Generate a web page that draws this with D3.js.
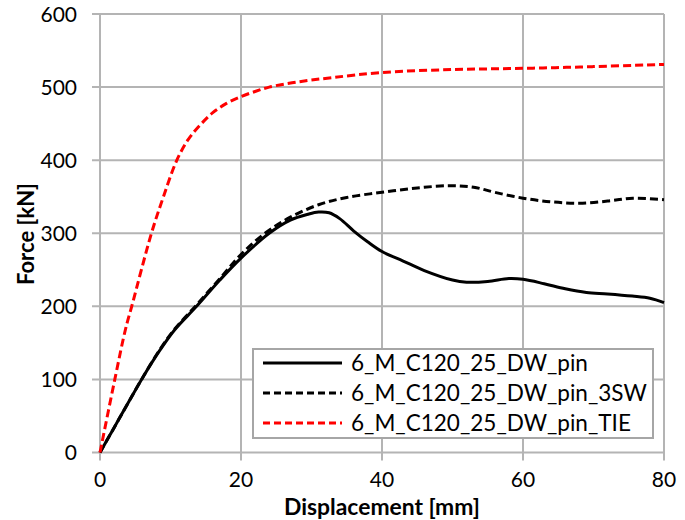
<!DOCTYPE html>
<html>
<head>
<meta charset="utf-8">
<script src="https://cdn.jsdelivr.net/npm/d3@7"></script>
<style>
  body { margin: 0; background: #fff; }
  svg { display: block; font-family: Lato, "Open Sans", sans-serif; }
</style>
</head>
<body>
<svg id="chart" width="685" height="520"></svg>
<script>
// series names
const seriesNames = ["6_M_C120_25_DW_pin", "6_M_C120_25_DW_pin_3SW", "6_M_C120_25_DW_pin_TIE"];

// displacement [mm], force [kN]
const pinX = [0, 2, 4, 5.9, 8.5, 10.6, 13.7, 17, 20, 24, 27, 29.5, 31, 32.5, 34, 36, 38, 40, 43, 46, 50, 52, 55, 58, 60, 63, 66, 69, 72, 75.5, 78, 80];
const pinY = [0, 34, 68, 100, 140, 168, 200, 236, 266, 300, 318, 326, 329, 328, 320, 303, 288, 275, 262, 249, 236, 233, 234, 238, 237, 231, 224, 219, 217, 214, 211, 205];

const swX = [0, 2, 4, 5.9, 8.5, 10.6, 13.7, 17, 20, 23.4, 27, 31, 35, 40, 45, 49.6, 53, 56, 60, 64, 68, 72, 75.6, 80];
const swY = [0, 34, 68, 100, 141, 169, 202, 238, 271, 300, 322, 339, 349, 356, 362, 365, 363, 356, 348, 343, 341, 344, 348, 346];

const tieX = [0, 2.1, 3.6, 4.5, 7.3, 9, 10.9, 12.5, 14.2, 16, 18, 20, 22, 24, 28, 33, 40, 50, 60, 70, 80];
const tieY = [0, 100, 168, 200, 300, 350, 400, 428, 448, 465, 478, 487, 494, 500, 507, 513, 520, 524, 525.6, 528, 531];

const xTicks = [0, 20, 40, 60, 80];
const yTicks = [0, 100, 200, 300, 400, 500, 600];

const svg = d3.select("#chart");

// plot area
const area = { left: 100, right: 664, top: 14, bottom: 452.5 };

const scX = d3.scaleLinear().domain([0, 80]).range([area.left, area.right]);
const scY = d3.scaleLinear().domain([0, 600]).range([area.bottom, area.top]);

const gridColor = "#b4b4b4";

// shrink/grow font so text gets the width seen in the picture
function fitWidth(sel, width) {
    const size = parseFloat(sel.style("font-size"));
    const w = sel.node().getComputedTextLength();
    if (w > 0) sel.style("font-size", (size * width / w).toFixed(2) + "px");
}

// gridlines
svg.append("g")
    .selectAll("line")
    .data(xTicks)
    .enter()
    .append("line")
    .attr("x1", d => scX(d)).attr("x2", d => scX(d))
    .attr("y1", area.top).attr("y2", area.bottom + 8)
    .style("stroke", gridColor).style("stroke-width", 2);

svg.append("g")
    .selectAll("line")
    .data(yTicks)
    .enter()
    .append("line")
    .attr("x1", area.left - 8).attr("x2", area.right)
    .attr("y1", d => scY(d)).attr("y2", d => scY(d))
    .style("stroke", gridColor).style("stroke-width", 2);

// tick labels
svg.append("g")
    .selectAll("text")
    .data(yTicks)
    .enter()
    .append("text")
    .attr("x", 77)
    .attr("y", d => scY(d) + 7.5)
    .attr("text-anchor", "end")
    .style("font-size", "21px")
    .text(d => d);

svg.append("g")
    .selectAll("text")
    .data(xTicks)
    .enter()
    .append("text")
    .attr("x", d => scX(d))
    .attr("y", 487)
    .attr("text-anchor", "middle")
    .style("font-size", "21px")
    .text(d => d);

// axis titles
const titleX = svg.append("text")
    .attr("x", 382)
    .attr("y", 515)
    .attr("text-anchor", "middle")
    .style("font-size", "22px")
    .style("font-weight", "bold")
    .text("Displacement [mm]");
fitWidth(titleX, 196);

const titleY = svg.append("text")
    .attr("transform", "translate(34, 234) rotate(-90)")
    .attr("text-anchor", "middle")
    .style("font-size", "22px")
    .style("font-weight", "bold")
    .text("Force [kN]");
fitWidth(titleY, 102);

// lines
const series = [
    { x: pinX, y: pinY, color: "#000", dash: null },
    { x: swX, y: swY, color: "#000", dash: "8,4" },
    { x: tieX, y: tieY, color: "#ff0000", dash: "8,4" }
];

const line = d3.line()
    .x(d => scX(d[0]))
    .y(d => scY(d[1]))
    .curve(d3.curveCatmullRom.alpha(0.5));

series.forEach(s => {
    svg.append("path")
        .datum(d3.zip(s.x, s.y))
        .attr("d", line)
        .style("fill", "none")
        .style("stroke", s.color)
        .style("stroke-width", 3)
        .style("stroke-dasharray", s.dash);
});

// legend
const legend = svg.append("g");
legend.append("rect")
    .attr("x", 253).attr("y", 349)
    .attr("width", 400).attr("height", 89)
    .style("fill", "#fff")
    .style("stroke", "#a6a6a6")
    .style("stroke-width", 2);

const labels = [];
series.forEach((s, i) => {
    const y = 363 + i * 30;
    legend.append("line")
        .attr("x1", 263).attr("x2", 342)
        .attr("y1", y).attr("y2", y)
        .style("stroke", s.color)
        .style("stroke-width", 3)
        .style("stroke-dasharray", s.dash ? "7,4" : null);
    labels.push(legend.append("text")
        .attr("x", 351)
        .attr("y", y + 7.5)
        .style("font-size", "20px")
        .text(seriesNames[i]));
});
// longest legend entry is about 296 px wide in the picture
fitWidth(labels[1], 296);
labels.forEach(l => l.style("font-size", labels[1].style("font-size")));
</script>
</body>
</html>
